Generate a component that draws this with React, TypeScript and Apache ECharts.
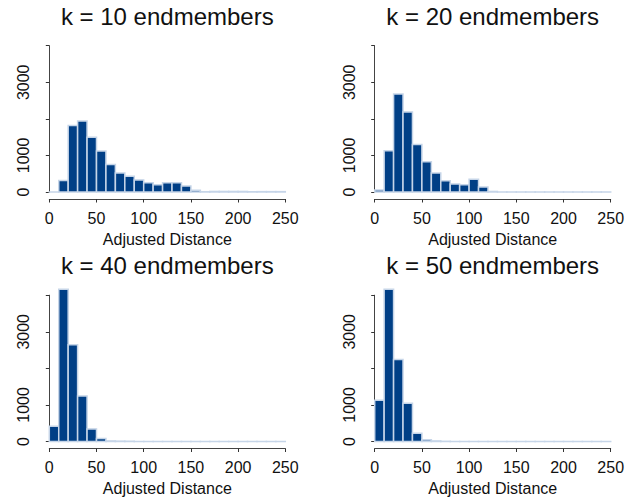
import React, { useEffect, useRef } from "react";
import * as echarts from "echarts";

// Histogram counts per 10-unit bin, 0..250
const binEdges = [0, 10, 20, 30, 40, 50, 60, 70, 80, 90, 100, 110, 120, 130, 140, 150, 160, 170, 180, 190, 200, 210, 220, 230, 240, 250];
const countsK10 = [0, 315, 1820, 1940, 1500, 1120, 750, 520, 430, 330, 250, 200, 250, 250, 165, 45, 5, 15, 15, 15, 15, 10, 10, 10, 10];
const countsK20 = [55, 1130, 2680, 2190, 1300, 830, 520, 310, 220, 200, 346, 137, 15, 0, 0, 0, 0, 0, 0, 0, 0, 0, 0, 0, 0];
const countsK40 = [420, 4160, 2645, 1245, 345, 82, 15, 10, 5, 0, 0, 0, 0, 0, 0, 0, 0, 0, 0, 0, 0, 0, 0, 0, 0];
const countsK50 = [1127, 4160, 2245, 1045, 227, 50, 15, 5, 0, 0, 0, 0, 0, 0, 0, 0, 0, 0, 0, 0, 0, 0, 0, 0, 0];
const titles = ["k = 10 endmembers", "k = 20 endmembers", "k = 40 endmembers", "k = 50 endmembers"];
const xTicks = [0, 50, 100, 150, 200, 250];
const yTickLabels = [0, 1000, 3000];
const xTitle = "Adjusted Distance";

const FONT = "'Liberation Sans', Arial, Helvetica, sans-serif";
const NAVY = "#003f86";
const EDGE = "#c6d5e8";

export default function App() {
  const ref = useRef<HTMLDivElement>(null);
  useEffect(() => {
    document.body.style.margin = "0";
    if (!ref.current) return;
    const chart = echarts.init(ref.current, undefined, { renderer: "svg" });
    const allCounts = [countsK10, countsK20, countsK40, countsK50];
    const lefts = [49.3, 374.7, 49.3, 374.7];
    const tops = [45.7, 45.7, 295.2, 295.2];
    const plotW = 236;
    const plotH = 146.3;

    const grids = lefts.map((l, i) => ({
      left: l,
      top: tops[i],
      width: plotW,
      height: plotH,
      containLabel: false,
      outerBoundsMode: "none",
    }));

    const xAxes = lefts.map((_, i) => ({
      type: "value",
      gridIndex: i,
      min: xTicks[0],
      max: xTicks[xTicks.length - 1],
      interval: 50,
      position: "bottom",
      offset: 7,
      axisLine: { show: true, onZero: false, lineStyle: { color: "#444", width: 1 } },
      axisTick: { show: true, length: 3.5, lineStyle: { color: "#333" } },
      axisLabel: { fontSize: 16, color: "#111", margin: 11, fontFamily: FONT },
      splitLine: { show: false },
      name: xTitle,
      nameLocation: "middle",
      nameGap: 32,
      nameTextStyle: { fontSize: 16, color: "#111", fontFamily: FONT },
    }));

    const yAxes = lefts.map((_, i) => ({
      type: "value",
      gridIndex: i,
      min: 0,
      max: 4000,
      interval: 1000,
      position: "left",
      offset: 9.4,
      axisLine: { show: true, lineStyle: { color: "#444", width: 1 } },
      axisTick: { show: true, length: 3.5, lineStyle: { color: "#333" } },
      axisLabel: {
        rotate: 90,
        fontSize: 16,
        color: "#111",
        margin: 8,
        fontFamily: FONT,
        formatter: (v: number) => (yTickLabels.indexOf(v) >= 0 ? String(v) : ""),
      },
      splitLine: { show: false },
    }));

    const series = allCounts.map((counts, i) => ({
      type: "custom",
      xAxisIndex: i,
      yAxisIndex: i,
      clip: false,
      data: counts.map((c, j) => [binEdges[j], binEdges[j + 1], c]),
      encode: { x: [0, 1], y: 2 },
      renderItem: (params: any, api: any) => {
        const p0 = api.coord([api.value(0), api.value(2)]);
        const p1 = api.coord([api.value(1), 0]);
        return {
          type: "rect",
          shape: {
            x: p0[0],
            y: p0[1],
            width: p1[0] - p0[0],
            height: Math.max(p1[1] - p0[1], 0.01),
          },
          style: { fill: NAVY, stroke: EDGE, lineWidth: 1.5 },
        };
      },
    }));

    const graphic = titles.map((t, i) => ({
      type: "text",
      x: lefts[i] + plotW / 2,
      y: (i < 2 ? 16 : 265.5),
      style: {
        text: t,
        fontSize: 24,
        fontFamily: FONT,
        fill: "#111",
        textAlign: "center",
        textVerticalAlign: "middle",
      },
    }));

    chart.setOption({
      animation: false,
      backgroundColor: "#ffffff",
      grid: grids,
      xAxis: xAxes,
      yAxis: yAxes,
      series,
      graphic,
    } as any);
    return () => chart.dispose();
  }, []);
  return <div ref={ref} style={{ width: 641, height: 502 }} />;
}
